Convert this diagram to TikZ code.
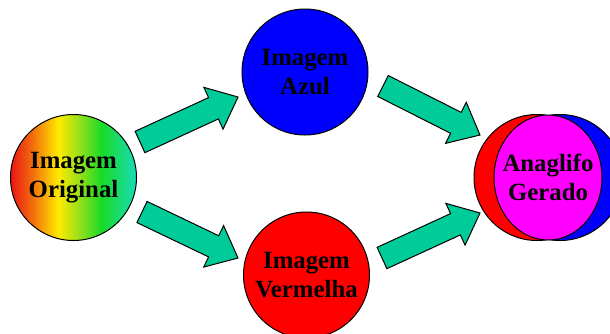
\documentclass[tikz,border=0pt]{standalone}
\usepackage{fontspec}
\setmainfont{Liberation Serif}
\usepackage{tikz}
\usetikzlibrary{calc,shapes.geometric}

\definecolor{seta}{RGB}{0,204,153}
\definecolor{lilas}{RGB}{255,0,255}
\definecolor{azulpuro}{RGB}{0,0,255}
\definecolor{vermpuro}{RGB}{255,0,0}
\pgfdeclarehorizontalshading{arcoiris}{100bp}{rgb(0bp)=(0.92,0.08,0.08); rgb(25bp)=(0.92,0.08,0.08); rgb(33bp)=(0.95,0.4,0.05); rgb(44bp)=(1,0.92,0); rgb(52bp)=(0.6,0.88,0.1); rgb(61bp)=(0.1,0.86,0.15); rgb(75bp)=(0.1,0.86,0.72); rgb(100bp)=(0.1,0.86,0.72)}

\tikzset{
	rotulo/.style={align=center,font=\fontsize{18.6}{21.75}\selectfont\bfseries},
	disco/.style={rotulo,shape=circle,draw=black,line width=0.75pt,minimum size=94.5pt,inner sep=0pt},
	bloco/.style={draw=black,fill=seta,line width=0.75pt,line join=miter,
		to path={($(\tikztostart)!8.8pt!90:(\tikztotarget)$)
			-- ($(\tikztotarget)!20.25pt!(\tikztostart)!8.8pt!90:(\tikztotarget)$)
			-- ($(\tikztotarget)!20.25pt!(\tikztostart)!17.25pt!90:(\tikztotarget)$)
			-- (\tikztotarget)
			-- ($(\tikztotarget)!20.25pt!(\tikztostart)!17.25pt!-90:(\tikztotarget)$)
			-- ($(\tikztotarget)!20.25pt!(\tikztostart)!8.8pt!-90:(\tikztotarget)$)
			-- ($(\tikztostart)!8.8pt!-90:(\tikztotarget)$)
			-- cycle}}
}

\begin{document}
\begin{tikzpicture}[x=0.75pt,y=-0.75pt]

	\useasboundingbox (0,0) rectangle (610,333);
	\clip (0,0) rectangle (610,333);

	\node[disco,shading=arcoiris] (orig) at (73.5,177.5) {Imagem\\Original};
	\node[disco,fill=azulpuro]    (azul) at (305,72)     {Imagem\\Azul};
	\node[disco,fill=vermpuro]    (verm) at (306.5,275)  {Imagem\\Vermelha};

	\coordinate (anagc) at (548,177.5);
	\node[disco,fill=vermpuro] (anagv) at ($(anagc)+(-11,0)$) {};
	\node[disco,fill=azulpuro] (anaga) at ($(anagc)+(12,0)$)  {};
	\node[shape=ellipse,draw=black,line width=0.75pt,fill=lilas,minimum width=81pt,minimum height=93.75pt] (lente) at (anagc) {};
	\node[rotulo] (anag) at (lente) {Anaglifo\\Gerado};

	\coordinate (s1) at ($(orig)+(66.5,-35.5)$);
	\coordinate (t1) at ($(azul)+(-67,25)$);
	\coordinate (s2) at ($(orig)+(68.5,34.5)$);
	\coordinate (t2) at ($(verm)+(-68.5,-17)$);
	\coordinate (s3) at ($(azul)+(78,14)$);
	\coordinate (t3) at ($(anagc)+(-68,-42.5)$);
	\coordinate (s4) at ($(verm)+(75.5,-17)$);
	\coordinate (t4) at ($(anagc)+(-68,35.5)$);

	\path[bloco] (s1) to (t1);
	\path[bloco] (s2) to (t2);
	\path[bloco] (s3) to (t3);
	\path[bloco] (s4) to (t4);

\end{tikzpicture}
\end{document}
